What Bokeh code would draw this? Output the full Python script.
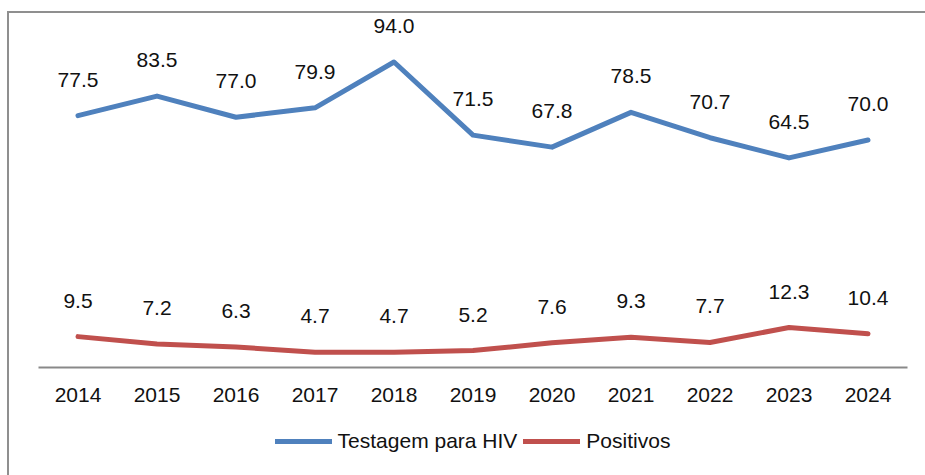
from bokeh.plotting import figure
from bokeh.layouts import column
from bokeh.models import ColumnDataSource, Range1d, FactorRange, Legend, LegendItem
from bokeh.core.properties import value
from bokeh.embed import file_html
from bokeh.resources import INLINE

years = ["2014", "2015", "2016", "2017", "2018", "2019", "2020", "2021", "2022", "2023", "2024"]
testagem = [77.5, 83.5, 77.0, 79.9, 94.0, 71.5, 67.8, 78.5, 70.7, 64.5, 70.0]
positivos = [9.5, 7.2, 6.3, 4.7, 4.7, 5.2, 7.6, 9.3, 7.7, 12.3, 10.4]
series_names = ["Testagem para HIV", "Positivos"]

BLUE = "#4F81BD"
RED = "#C0504D"
FONT = "Liberation Sans"
TXT = "#111111"

src_t = ColumnDataSource(dict(x=years, y=testagem, lab=[f"{v:.1f}" for v in testagem]))
src_p = ColumnDataSource(dict(x=years, y=positivos, lab=[f"{v:.1f}" for v in positivos]))

# main chart
p = figure(width=916, height=400, x_range=FactorRange(*years, range_padding=0),
           y_range=Range1d(0, 108), output_backend="svg", toolbar_location=None,
           y_axis_location=None, min_border_left=29, min_border_right=18,
           min_border_top=3, min_border_bottom=46)
p.outline_line_color = None
p.xgrid.visible = False
p.ygrid.visible = False

for s, c in ((src_t, BLUE), (src_p, RED)):
    p.line("x", "y", source=s, line_color=c, line_width=5, line_cap="round", line_join="round")
    p.text("x", "y", text="lab", source=s, y_offset=-36, text_align="center", text_baseline="middle",
           text_font=value(FONT), text_font_size="21px", text_color=TXT)

ax = p.xaxis[0]
ax.axis_line_color = "#898989"
ax.axis_line_width = 2
ax.major_tick_line_color = None
ax.minor_tick_line_color = None
ax.major_tick_out = 0
ax.major_tick_in = 0
ax.major_label_standoff = 20
ax.major_label_text_font = FONT
ax.major_label_text_font_size = "21px"
ax.major_label_text_color = TXT

# legend strip
q = figure(width=916, height=62, x_range=p.x_range, y_range=Range1d(0, 108),
           output_backend="svg", toolbar_location=None, x_axis_location=None, y_axis_location=None,
           min_border_left=29, min_border_right=18, min_border_top=0, min_border_bottom=6)
q.outline_line_color = None
q.xgrid.visible = False
q.ygrid.visible = False
lr1 = q.line("x", "y", source=src_t, line_color=BLUE, line_width=5, line_cap="round", visible=False)
lr2 = q.line("x", "y", source=src_p, line_color=RED, line_width=5, line_cap="round", visible=False)

legend = Legend(items=[LegendItem(label=series_names[0], renderers=[lr1]),
                       LegendItem(label=series_names[1], renderers=[lr2])],
                orientation="horizontal", location="center")
legend.label_text_font = FONT
legend.label_text_font_size = "21px"
legend.label_text_color = TXT
legend.glyph_width = 57
legend.glyph_height = 22
legend.label_standoff = 6
legend.spacing = 6
legend.padding = 0
legend.margin = 0
legend.border_line_color = None
legend.background_fill_alpha = 0
legend.inactive_fill_alpha = 0
q.add_layout(legend)

layout = column(p, q, spacing=0)
layout.styles = {"border-top": "2px solid #8f8f8f", "border-left": "2px solid #8f8f8f",
                 "margin-top": "11px", "margin-left": "7px"}

open("out.html", "w").write(file_html(layout, INLINE))
